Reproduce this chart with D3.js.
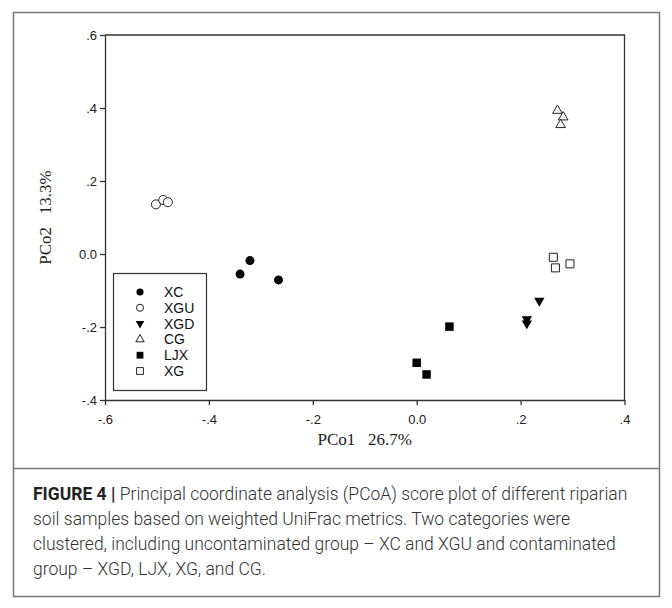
<!DOCTYPE html>
<html>
<head>
<meta charset="utf-8">
<script src="https://cdn.jsdelivr.net/npm/d3@7"></script>
<style>
  body { margin: 0; background: #fff; }
  svg { display: block; }
  text { white-space: pre; }
</style>
</head>
<body>
<div id="chart"></div>
<script>
// groups in legend order
const groups = ["XC", "XGU", "XGD", "CG", "LJX", "XG"];

// sample scores (PCo1, PCo2)
const xcX  = [-0.340, -0.321, -0.266];
const xcY  = [-0.055, -0.018, -0.071];
const xguX = [-0.502, -0.488, -0.479];
const xguY = [0.136, 0.148, 0.142];
const xgdX = [0.236, 0.212, 0.212];
const xgdY = [-0.128, -0.179, -0.190];
const cgX  = [0.271, 0.282, 0.277];
const cgY  = [0.393, 0.375, 0.354];
const ljxX = [0.063, 0.000, 0.019];
const ljxY = [-0.199, -0.298, -0.330];
const xgX  = [0.263, 0.267, 0.295];
const xgY  = [-0.009, -0.038, -0.027];

const xTicks = [-0.6, -0.4, -0.2, 0, 0.2, 0.4];
const yTicks = [-0.4, -0.2, 0, 0.2, 0.4, 0.6];

const captionLines = [
  ["FIGURE 4 | ", "Principal coordinate analysis (PCoA) score plot of different riparian"],
  ["", "soil samples based on weighted UniFrac metrics. Two categories were"],
  ["", "clustered, including uncontaminated group \u2013 XC and XGU and contaminated"],
  ["", "group \u2013 XGD, LJX, XG, and CG."]
];

const width = 672, height = 608;
const plot = {left: 105, right: 624.5, top: 35, bottom: 400};

const svg = d3.select("#chart").append("svg")
    .attr("width", width)
    .attr("height", height);

svg.append("rect").attr("width", width).attr("height", height).attr("fill", "#fff");

// outer figure frame + caption separator
svg.append("rect")
    .attr("x", 13.5).attr("y", 12.5)
    .attr("width", 646).attr("height", 584)
    .attr("fill", "none").attr("stroke", "#777").attr("stroke-width", 1.5);
svg.append("line")
    .attr("x1", 13.5).attr("x2", 659.5)
    .attr("y1", 468.5).attr("y2", 468.5)
    .attr("stroke", "#777").attr("stroke-width", 1.5);

const x = d3.scaleLinear().domain([-0.6, 0.4]).range([plot.left, plot.right]);
const y = d3.scaleLinear().domain([-0.4, 0.6]).range([plot.bottom, plot.top]);

// SigmaPlot style labels: "-.4", "0.0", ".2" with a plain hyphen
const fmt = d => d === 0 ? "0.0" : d3.format(".1f")(d).replace("\u2212", "-").replace("0.", ".");

const xAxis = svg.append("g")
    .attr("transform", `translate(0,${plot.bottom})`)
    .call(d3.axisBottom(x).tickValues(xTicks).tickFormat(fmt).tickSize(5).tickSizeOuter(0));
const yAxis = svg.append("g")
    .attr("transform", `translate(${plot.left},0)`)
    .call(d3.axisLeft(y).tickValues(yTicks).tickFormat(fmt).tickSize(5).tickSizeOuter(0));

[xAxis, yAxis].forEach(a => {
    a.selectAll("path, line").attr("stroke", "#333").attr("stroke-width", 1.3);
    a.selectAll("text")
        .attr("fill", "#222")
        .style("font-family", "'Liberation Sans', Arial, sans-serif")
        .style("font-size", "13px");
});
xAxis.selectAll("text").attr("dy", "0.71em").attr("y", 15);
yAxis.selectAll("text").attr("x", -8);

// top and right border of the plot box
svg.append("path")
    .attr("d", `M${plot.left},${plot.top}H${plot.right}V${plot.bottom}`)
    .attr("fill", "none").attr("stroke", "#333").attr("stroke-width", 1.3);

// axis titles
svg.append("text")
    .attr("x", (plot.left + plot.right) / 2)
    .attr("y", 445)
    .attr("text-anchor", "middle")
    .attr("fill", "#222")
    .style("font-family", "'Liberation Serif', 'Times New Roman', serif")
    .style("font-size", "17px")
    .text("PCo1   26.7%");
svg.append("text")
    .attr("transform", `translate(51,${(plot.top + plot.bottom) / 2}) rotate(-90)`)
    .attr("text-anchor", "middle")
    .attr("fill", "#222")
    .style("font-family", "'Liberation Serif', 'Times New Roman', serif")
    .style("font-size", "17px")
    .text("PCo2   13.3%");

// marker style for each group
const style = {
  XC:  {type: d3.symbolCircle,   filled: true,  rot: 0,   size: 64, lsize: 40},
  XGU: {type: d3.symbolCircle,   filled: false, rot: 0,   size: 64, lsize: 40},
  XGD: {type: d3.symbolTriangle, filled: true,  rot: 180, size: 46, lsize: 32},
  CG:  {type: d3.symbolTriangle, filled: false, rot: 0,   size: 40, lsize: 30},
  LJX: {type: d3.symbolSquare,   filled: true,  rot: 0,   size: 72, lsize: 46},
  XG:  {type: d3.symbolSquare,   filled: false, rot: 0,   size: 64, lsize: 46}
};

const points = [];
const addGroup = (g, xs, ys) => xs.forEach((v, i) => points.push({group: g, x: v, y: ys[i]}));
addGroup("XC", xcX, xcY);
addGroup("XGU", xguX, xguY);
addGroup("XGD", xgdX, xgdY);
addGroup("CG", cgX, cgY);
addGroup("LJX", ljxX, ljxY);
addGroup("XG", xgX, xgY);

svg.append("g")
    .selectAll("path")
    .data(points)
    .join("path")
    .attr("transform", d => `translate(${x(d.x)},${y(d.y)}) rotate(${style[d.group].rot})`)
    .attr("d", d => d3.symbol().type(style[d.group].type).size(style[d.group].size)())
    .attr("fill", d => style[d.group].filled ? "#000" : "#fff")
    .attr("stroke", d => style[d.group].filled ? "none" : "#222")
    .attr("stroke-width", 1);

// legend
const legend = svg.append("g");
legend.append("rect")
    .attr("x", 113.5).attr("y", 273.5)
    .attr("width", 93).attr("height", 117)
    .attr("fill", "#fff").attr("stroke", "#333").attr("stroke-width", 1.2);
const item = legend.selectAll("g.item")
    .data(groups)
    .join("g")
    .attr("class", "item")
    .attr("transform", (d, i) => `translate(140,${292 + i * 15.8})`);
item.append("path")
    .attr("transform", d => `rotate(${style[d].rot})`)
    .attr("d", d => d3.symbol().type(style[d].type).size(style[d].lsize)())
    .attr("fill", d => style[d].filled ? "#000" : "#fff")
    .attr("stroke", d => style[d].filled ? "none" : "#222")
    .attr("stroke-width", 1);
item.append("text")
    .attr("x", 24)
    .attr("dy", "0.36em")
    .attr("fill", "#111")
    .style("font-family", "'Liberation Sans', Arial, sans-serif")
    .style("font-size", "14px")
    .text(d => d);

// caption
const cap = svg.append("g")
    .style("font-family", "'Roboto', sans-serif")
    .style("font-size", "17.5px")
    .style("font-weight", "300")
    .attr("fill", "#333");
captionLines.forEach((ln, i) => {
    const t = cap.append("text").attr("x", 33).attr("y", 500 + i * 25);
    if (ln[0]) t.append("tspan").style("font-weight", "bold").attr("fill", "#222").text(ln[0]);
    t.append("tspan").text(ln[1]);
});
</script>
</body>
</html>
